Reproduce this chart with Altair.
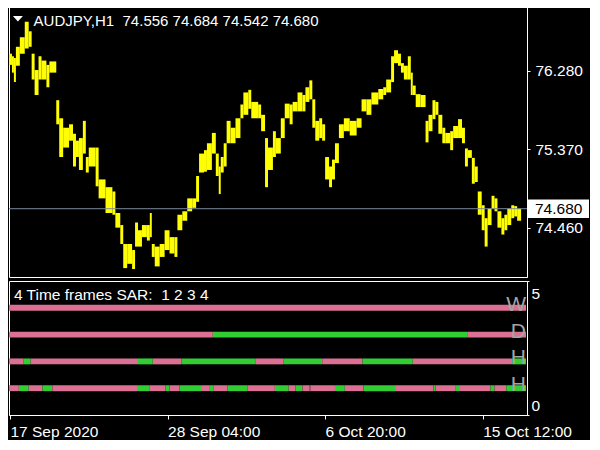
import altair as alt
import pandas as pd

# ---------------- data ----------------
# AUDJPY H1 price, grouped into short runs of bars: first bar index of each run, run high, run low
seg_start = [0, 3, 5, 7, 11, 16, 20, 23, 26, 30, 33, 38, 41, 48, 51, 55, 61, 65, 68, 71,
             75, 78, 81, 88, 91, 98, 105, 108, 113, 116, 120, 125, 128, 131, 135, 140, 143, 145, 148, 153,
             158, 163, 168, 171, 176, 181, 186, 190, 193, 198, 201, 206, 210, 213, 215, 218, 221, 225, 230, 235,
             238, 243, 246, 253, 256, 260, 263, 268, 271, 276, 280, 285, 288, 293, 298, 301, 305, 308, 311, 315,
             318, 321, 325, 328, 331, 335, 340, 346, 353, 358, 363, 368, 375, 380, 383, 388, 391, 395, 398, 401,
             405, 408, 410, 413, 418, 423, 426, 430, 433, 436, 440, 443, 448, 451, 456, 460, 463, 466, 470, 473,
             476, 480, 483, 486, 490, 493, 496, 500, 503, 506, 510, 513, 516]
seg_high = [76.48, 76.45, 76.43, 76.56, 76.67, 76.85, 76.74, 76.48, 76.29, 76.45, 76.40, 76.35, 76.39, 75.94, 75.73, 75.62, 75.66, 75.55, 75.47, 75.50,
            75.70, 75.28, 75.39, 75.39, 75.02, 74.93, 74.88, 74.63, 74.49, 74.27, 74.27, 74.20, 74.52, 74.43, 74.49, 74.49, 74.63, 74.27, 74.24, 74.27,
            74.43, 74.35, 74.35, 74.61, 74.65, 74.80, 74.80, 75.06, 75.32, 75.36, 75.44, 75.56, 75.32, 75.17, 75.28, 75.44, 75.70, 75.62, 75.73, 75.89,
            76.03, 76.06, 75.92, 75.89, 75.77, 75.50, 75.39, 75.58, 75.50, 75.73, 75.90, 75.89, 75.92, 76.03, 76.00, 76.09, 76.17, 75.95, 75.70, 75.73,
            75.66, 75.28, 75.17, 75.25, 75.44, 75.66, 75.73, 75.70, 75.73, 75.95, 75.95, 76.03, 76.07, 76.09, 76.18, 76.45, 76.52, 76.48, 76.37, 76.34,
            76.45, 76.26, 76.11, 76.01, 76.00, 75.70, 75.77, 75.94, 75.92, 75.77, 75.62, 75.56, 75.58, 75.64, 75.72, 75.62, 75.38, 75.36, 75.27, 75.17,
            74.88, 74.72, 74.57, 74.68, 74.83, 74.80, 74.65, 74.57, 74.61, 74.68, 74.72, 74.71, 74.68]
seg_low = [76.35, 76.26, 76.15, 76.34, 76.48, 76.54, 76.56, 76.18, 76.00, 76.18, 76.18, 76.09, 76.26, 75.66, 75.28, 75.39, 75.47, 75.17, 75.28, 75.13,
           75.32, 75.10, 75.17, 74.94, 74.80, 74.63, 74.61, 74.46, 74.27, 73.99, 74.04, 73.98, 74.24, 74.24, 74.35, 74.31, 74.35, 74.12, 74.01, 74.12,
           74.20, 74.16, 74.12, 74.43, 74.54, 74.65, 74.69, 74.76, 75.10, 75.11, 75.13, 75.32, 75.06, 74.85, 75.10, 75.17, 75.44, 75.44, 75.50, 75.73,
           75.77, 75.84, 75.73, 75.73, 75.58, 74.93, 75.13, 75.28, 75.32, 75.50, 75.73, 75.66, 75.81, 75.81, 75.81, 75.92, 75.95, 75.62, 75.47, 75.50,
           75.47, 75.02, 74.93, 75.02, 75.21, 75.50, 75.58, 75.53, 75.62, 75.81, 75.77, 75.89, 75.95, 76.00, 76.03, 76.15, 76.37, 76.34, 76.26, 76.18,
           76.18, 76.00, 76.00, 75.86, 75.86, 75.45, 75.58, 75.72, 75.77, 75.55, 75.44, 75.44, 75.36, 75.50, 75.50, 75.44, 75.17, 75.27, 74.97, 74.99,
           74.61, 74.43, 74.24, 74.49, 74.68, 74.65, 74.46, 74.38, 74.43, 74.49, 74.57, 74.59, 74.54]
last_bar = 520

header_text = "AUDJPY,H1\u00a0\u00a074.556 74.684 74.542 74.680"
current_price = [74.680]
price_ticks = [74.460, 75.370, 76.280]

time_tick_pos = [1, 161, 321, 481]
time_tick_labels = ["17 Sep 2020", "28 Sep 04:00", "6 Oct 20:00", "15 Oct 12:00"]

# 4 Time frames SAR: rows, levels and colour change points (bar index); colours alternate starting "down"
sar_title = "4 Time frames SAR:\u00a0\u00a01 2 3 4"
sar_names = ["W", "D", "H", "H"]
sar_levels = [4, 3, 2, 1]
sar_breaks = [
    [0, 525],
    [0, 207, 466, 525],
    [0, 15, 22, 131, 146, 175, 250, 279, 318, 359, 410, 511, 525],
    [0, 10, 20, 34, 44, 130, 143, 159, 163, 173, 196, 204, 208, 222, 242, 270, 284, 291, 298, 305, 306,
     331, 341, 360, 392, 431, 433, 453, 457, 489, 493, 505, 525],
]

# ---------------- tables ----------------
price_df = pd.DataFrame({
    "start": seg_start,
    "end": seg_start[1:] + [last_bar],
    "high": seg_high,
    "low": seg_low,
})

rows = []
for name, lvl, br in zip(sar_names, sar_levels, sar_breaks):
    for i in range(len(br) - 1):
        rows.append({"level": lvl, "start": br[i], "end": br[i + 1],
                     "state": "down" if i % 2 == 0 else "up"})
sar_df = pd.DataFrame(rows)
names_df = pd.DataFrame({"name": sar_names, "level": sar_levels})

label_expr = " : ".join(
    f"datum.value == {p} ? '{l}'" for p, l in zip(time_tick_pos, time_tick_labels)
) + " : ''"

W = 518
H_TOP = 270
H_BOT = 134
FS = 15.5

xscale = alt.Scale(domain=[0, 526], nice=False, zero=False)
yscale = alt.Scale(domain=[73.887, 77.022], nice=False, zero=False)
lscale = alt.Scale(domain=[0, 5], nice=False, zero=False)

price_axis = alt.Axis(orient="right", values=price_ticks, format=".3f",
                      labelColor="white", labelFontSize=FS, tickColor="white",
                      tickSize=3, labelPadding=5, domainColor="white", grid=False)
level_axis = alt.Axis(orient="right", values=[0, 5], labelColor="white", labelFontSize=FS,
                      tickColor="white", tickSize=2, labelPadding=2, domainColor="white",
                      grid=False, labelBaseline="middle",
                      labelOffset={"condition": {"test": "datum.value == 5", "value": 12},
                                   "value": -10})
time_axis = alt.Axis(values=time_tick_pos, labelExpr=label_expr, labelAlign="left",
                     labelColor="white", labelFontSize=FS, tickColor="white", tickSize=4,
                     labelPadding=5, domainColor="white", grid=False,
                     labelFlush=False, labelOverlap=False)

bars = alt.Chart(price_df).mark_rect(color="#FFFF00").encode(
    x=alt.X("start:Q", scale=xscale, axis=None),
    x2="end:Q",
    y=alt.Y("high:Q", scale=yscale, title=None, axis=price_axis),
    y2="low:Q",
)

cur_df = pd.DataFrame({"price": current_price})
bid_line = alt.Chart(cur_df).mark_rule(color="#7a8a9c", strokeWidth=1).encode(
    y=alt.Y("price:Q", scale=yscale, title=None, axis=price_axis)
)
bid_box = alt.Chart(cur_df).mark_tick(orient="horizontal", size=61, thickness=18.5,
                                      color="white", opacity=1).encode(
    x=alt.value(549.5),
    y=alt.Y("price:Q", scale=yscale, title=None, axis=price_axis),
)
bid_text = alt.Chart(cur_df).mark_text(align="left", baseline="middle", color="black",
                                       fontSize=FS).encode(
    x=alt.value(526),
    y=alt.Y("price:Q", scale=yscale, title=None, axis=price_axis),
    text=alt.Text("price:Q", format=".3f"),
)
head = alt.Chart(pd.DataFrame({"t": [header_text]})).mark_text(
    align="left", baseline="alphabetic", color="white", fontSize=15).encode(
    x=alt.value(24.6), y=alt.value(18.5), text="t:N")
tri = alt.Chart(pd.DataFrame({"t": [0]})).mark_point(
    shape="M-1,-0.55L1,-0.55L0,0.55Z", filled=True, color="white", opacity=1, size=100).encode(
    x=alt.value(8.9), y=alt.value(11.7))

top = alt.layer(bars, bid_line, bid_box, bid_text, head, tri).properties(width=W, height=H_TOP)

sar = alt.Chart(sar_df).mark_rule(strokeWidth=5.9, strokeCap="butt").encode(
    x=alt.X("start:Q", scale=xscale, title=None, axis=time_axis),
    x2="end:Q",
    y=alt.Y("level:Q", scale=lscale, title=None, axis=level_axis),
    color=alt.Color("state:N", scale=alt.Scale(domain=["up", "down"],
                                               range=["#32CD32", "#DB7093"]), legend=None),
)
letters = alt.Chart(names_df).mark_text(align="right", baseline="middle", dy=-3,
                                        fontSize=21, color="#a4a4a4").encode(
    x=alt.value(517),
    y=alt.Y("level:Q", scale=lscale, title=None, axis=level_axis),
    text="name:N",
)
sar_head = alt.Chart(pd.DataFrame({"t": [sar_title]})).mark_text(
    align="left", baseline="alphabetic", color="white", fontSize=FS).encode(
    x=alt.value(4.9), y=alt.value(18.6), text="t:N")

bottom = alt.layer(sar, letters, sar_head).properties(width=W, height=H_BOT)

chart = alt.vconcat(top, bottom, spacing=2).configure(
    background="black",
    padding={"left": -3, "top": -2, "right": 0, "bottom": 0},
    font="Liberation Sans",
).configure_view(stroke="white", strokeWidth=1)

chart.save("out.html", embed_options={"renderer": "svg", "actions": False})
